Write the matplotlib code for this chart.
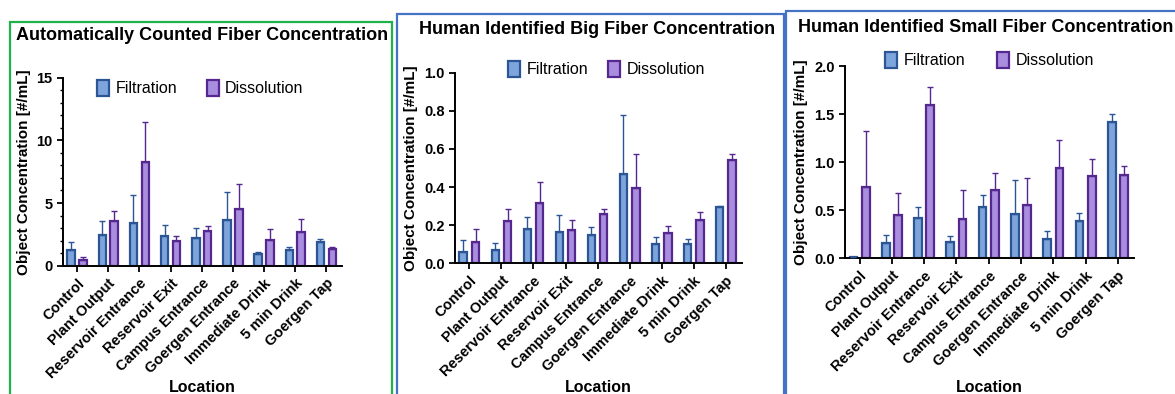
import numpy as np
import matplotlib
matplotlib.use("Agg")
import matplotlib.pyplot as plt
from matplotlib.patches import Rectangle
from matplotlib.ticker import MultipleLocator

plt.rcParams['font.family'] = ['Liberation Sans', 'DejaVu Sans']

locations = ["Control", "Plant Output", "Reservoir Entrance", "Reservoir Exit",
             "Campus Entrance", "Goergen Entrance", "Immediate Drink",
             "5 min Drink", "Goergen Tap"]

# automatically counted
auto_filt = [1.28, 2.42, 3.43, 2.39, 2.21, 3.64, 0.93, 1.22, 1.86]
auto_filt_top = [1.91, 3.56, 5.61, 3.22, 2.98, 5.90, 1.09, 1.46, 2.10]
auto_diss = [0.48, 3.54, 8.24, 1.97, 2.79, 4.49, 2.05, 2.66, 1.30]
auto_diss_top = [0.66, 4.39, 11.49, 2.34, 3.14, 6.49, 2.95, 3.75, 1.46]

# human identified big
big_filt = [0.058, 0.070, 0.178, 0.166, 0.147, 0.469, 0.100, 0.103, 0.294]
big_filt_top = [0.122, 0.107, 0.245, 0.255, 0.192, 0.776, 0.140, 0.129, 0.302]
big_diss = [0.110, 0.224, 0.315, 0.175, 0.260, 0.397, 0.161, 0.227, 0.542]
big_diss_top = [0.182, 0.287, 0.425, 0.226, 0.285, 0.573, 0.198, 0.271, 0.575]

# human identified small
small_filt = [0.01, 0.160, 0.416, 0.170, 0.537, 0.464, 0.205, 0.392, 1.418]
small_filt_top = [0.01, 0.246, 0.537, 0.229, 0.655, 0.811, 0.284, 0.475, 1.497]
small_diss = [0.742, 0.447, 1.598, 0.412, 0.711, 0.551, 0.936, 0.860, 0.863]
small_diss_top = [1.324, 0.676, 1.785, 0.707, 0.891, 0.839, 1.234, 1.029, 0.957]

W, H = 1175, 394
fig = plt.figure(figsize=(W / 100, H / 100), dpi=100)

blue_edge, blue_fill = '#2c5596', '#7ea4dc'
purp_edge, purp_fill = '#55288f', '#a98ddf'


def px_axes(x0, y0, x1, y1):
    return fig.add_axes([x0 / W, 1 - y1 / H, (x1 - x0) / W, (y1 - y0) / H])


def border(x0, y0, x1, y1, color):
    fig.patches.append(Rectangle((x0 / W, 1 - y1 / H), (x1 - x0) / W, (y1 - y0) / H,
                                 transform=fig.transFigure, fill=False,
                                 edgecolor=color, linewidth=1.6))


def panel(box, filt, filt_top, diss, diss_top, ymax, ystep, minor, title, tx, ty,
          leg_x, leg_y, colsp):
    ax = px_axes(*box)
    x = np.arange(len(locations))
    fe = np.array(filt_top) - np.array(filt)
    de = np.array(diss_top) - np.array(diss)
    ax.bar(x - 0.19, filt, 0.24, color=blue_fill, edgecolor=blue_edge, linewidth=1.6,
           label='Filtration', zorder=2)
    ax.bar(x + 0.19, diss, 0.24, color=purp_fill, edgecolor=purp_edge, linewidth=1.6,
           label='Dissolution', zorder=2)
    ax.errorbar(x - 0.19, filt, yerr=[np.zeros(len(x)), fe], fmt='none', ecolor=blue_edge,
                elinewidth=1.0, capsize=2.5, capthick=1.0, zorder=3)
    ax.errorbar(x + 0.19, diss, yerr=[np.zeros(len(x)), de], fmt='none', ecolor=purp_edge,
                elinewidth=1.0, capsize=2.5, capthick=1.0, zorder=3)
    ax.set_xlim(-0.45, 8.5)
    ax.set_ylim(0, ymax)
    ax.yaxis.set_major_locator(MultipleLocator(ystep))
    if minor:
        ax.yaxis.set_minor_locator(MultipleLocator(minor))
    for s in ['top', 'right']:
        ax.spines[s].set_visible(False)
    for s in ['left', 'bottom']:
        ax.spines[s].set_linewidth(1.4)
    ax.tick_params(axis='both', width=1.3, length=4, labelsize=10.5)
    ax.tick_params(axis='y', which='minor', width=1.0, length=2.5)
    ax.set_xticks(x)
    ax.set_xticklabels(locations, rotation=45, ha='right', rotation_mode='anchor',
                       fontweight='bold', fontsize=10.5)
    if ystep < 1:
        ax.set_yticklabels(['%.1f' % v for v in ax.get_yticks()], fontweight='bold')
    else:
        ax.set_yticklabels(['%d' % v for v in ax.get_yticks()], fontweight='bold')
    ax.set_ylabel('Object Concentration [#/mL]', fontweight='bold', fontsize=11, labelpad=4)
    ax.set_xlabel('Location', fontweight='bold', fontsize=11.5)
    pos = ax.get_position()
    ax.xaxis.set_label_coords(0.5, (1 - 380 / H - pos.y0) / pos.height)
    ax.legend(loc='center left', bbox_to_anchor=(leg_x, leg_y), ncol=2, frameon=False,
              fontsize=11.5, handlelength=0.75, handleheight=1.15, columnspacing=colsp,
              handletextpad=0.4, borderpad=0, borderaxespad=0)
    fig.text(tx / W, 1 - ty / H, title, fontweight='bold', fontsize=13,
             ha='left', va='center')
    return ax


border(10, 22, 392, 420, '#1db34a')
border(397, 14, 784, 420, '#4472c4')
border(786, 11, 1200, 420, '#4472c4')

panel((63, 77.7, 342, 265.7), auto_filt, auto_filt_top, auto_diss, auto_diss_top,
      15, 5, 1, 'Automatically Counted Fiber Concentration', 16, 36,
      (97 - 63) / 279, (265.7 - 88) / 188, 1.85)
panel((455, 72.7, 741.7, 263.3), big_filt, big_filt_top, big_diss, big_diss_top,
      1.0, 0.2, None, 'Human Identified Big Fiber Concentration', 419, 30,
      (508 - 455) / 286.7, (263.3 - 69) / 190.6, 1.25)
panel((845, 66, 1134, 258.3), small_filt, small_filt_top, small_diss, small_diss_top,
      2.0, 0.5, None, 'Human Identified Small Fiber Concentration', 798, 27,
      (885 - 845) / 289, (258.3 - 60) / 192.3, 2.0)

fig.savefig('out.png', dpi=100)
